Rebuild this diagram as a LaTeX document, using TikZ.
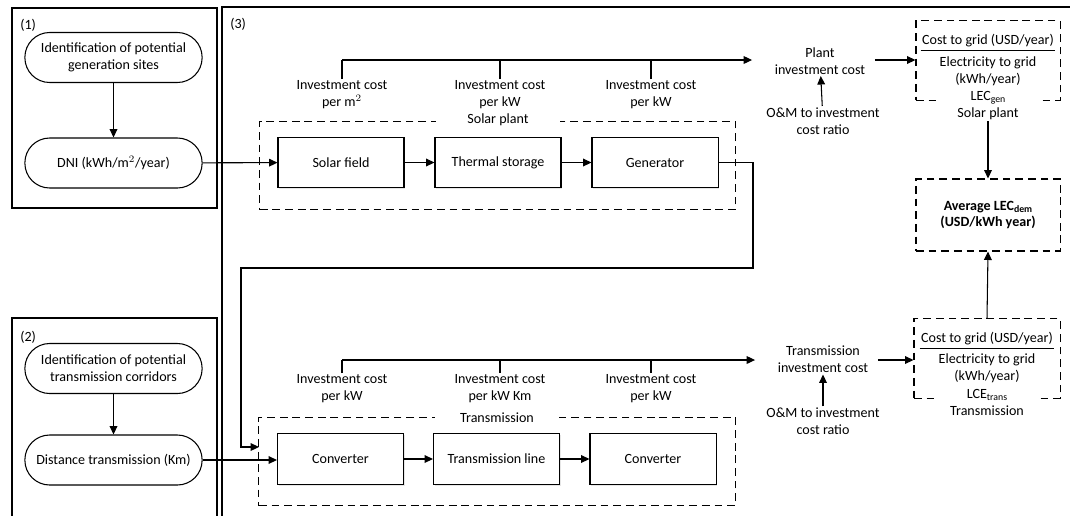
\documentclass[tikz,border=0pt]{standalone}
\usepackage{fontspec}
\setmainfont{Carlito}
\usetikzlibrary{arrows.meta,shadows}

\newcommand{\lowsub}[1]{\raisebox{-0.35ex}{\scriptsize #1}}

\tikzset{
  line/.style={black, line width=0.75pt},
  arr/.style={line, -{Triangle[length=6pt,width=5.5pt]}},
  dashbox/.style={line, draw, dash pattern=on 5.5pt off 3.5pt},
  roundbox/.style={line, draw, fill=white, rounded corners=0.62cm, minimum width=4.43cm, minimum height=1.25cm, align=center},
  plainbox/.style={line, draw, fill=white, minimum width=3.15cm, minimum height=1.27cm,
    drop shadow={opacity=0.2, shadow xshift=0.8pt, shadow yshift=-0.8pt}},
  lbl/.style={align=center, inner sep=1pt}
}

\begin{document}
\begin{tikzpicture}[x=0.025cm, y=-0.025cm]
\useasboundingbox (0,0) rectangle (1070,515);
\clip (0,0) rectangle (1070,515);

% panels
\draw[line] (12,8) rectangle (217,208);
\draw[line] (12,318) rectangle (217,540);
\draw[line] (222,7) rectangle (1090,540);
\node[anchor=west, inner sep=0pt] (p1) at (20,25) {(1)};
\node[anchor=west, inner sep=0pt] (p2) at (20,337) {(2)};
\node[anchor=west, inner sep=0pt] (p3) at (230,24) {(3)};

% (1) and (2)
\node[roundbox] (sites) at (113.5,57.5) {Identification of potential\\generation sites};
\node[roundbox] (dni) at (113.5,163) {DNI (kWh/m$^{2}$/year)};
\node[roundbox] (corr) at (113.5,368.5) {Identification of potential\\transmission corridors};
\node[roundbox] (dist) at (113.5,460) {Distance transmission (Km)};
\draw[arr] (sites) -- (dni);
\draw[arr] (corr) -- (dist);

% solar plant
\node[dashbox, minimum width=11.88cm, minimum height=2.22cm] (splant) at (497.5,165.5) {};
\node[lbl, fill=white, minimum width=3.1cm] (splantlbl) at (498,120) {Solar plant};
\node[plainbox] (sfield) at (341,162.5) {Solar field};
\node[plainbox] (tstore) at (498,162.5) {Thermal storage};
\node[plainbox] (gen) at (655,162.5) {Generator};
\draw[arr] (dni) -- (sfield);
\draw[arr] (sfield) -- (tstore);
\draw[arr] (tstore) -- (gen);

\node[lbl] (c1) at (342,95) {Investment cost\\per m$^{2}$};
\node[lbl] (c2) at (500,95) {Investment cost\\per kW};
\node[lbl] (c3) at (651,95) {Investment cost\\per kW};
\coordinate (bus1) at (342,60);
\draw[line] (c1.north) -- (bus1);
\draw[line] (c2.north) -- (c2.north |- bus1);
\draw[line] (c3.north) -- (c3.north |- bus1);

\node[lbl] (pinv) at (820,61) {Plant\\investment cost};
\node[lbl] (om1) at (823,121) {O\&M to investment\\cost ratio};
\draw[arr, shorten >=15pt] (bus1) -- (pinv.west |- bus1);
\draw[arr] (om1) -- (pinv);

% LEC gen
\node[dashbox, minimum width=3.6cm, minimum height=1.98cm] (lecgen) at (988,60.5) {};
\node[lbl] (cost1) at (988,41) {Cost to grid (USD/year)};
\draw[line] ([yshift=-1pt]cost1.south west) -- ([yshift=-1pt]cost1.south east);
\node[lbl, inner sep=0pt] (elec1) at (988,71) {Electricity to grid\\(kWh/year)};
\node[lbl, fill=white, minimum width=2.6cm] (lab1) at (988,105.5) {LEC\lowsub{gen}\\Solar plant};
\draw[arr] (pinv.east |- bus1) ++(8,0) -- (lecgen.west |- bus1);

% average
\node[dashbox, minimum width=3.6cm, minimum height=1.8cm, align=center, font=\bfseries] (avg) at (988,215) {Average LEC\lowsub{dem}\\(USD/kWh year)};
\draw[arr] (lab1.south) -- (avg.north);

% generator to transmission
\node[dashbox, minimum width=11.9cm, minimum height=2.22cm] (tbox) at (497,461.5) {};
\node[lbl, fill=white, minimum width=3.1cm] (tboxlbl) at (497,418) {Transmission};
\coordinate (bendA) at (753,268);
\coordinate (bendB) at (241,268);
\coordinate (tin) at (259,447);
\draw[arr] (gen.east) -| (bendA) -- (bendB) |- (tin);

\node[plainbox] (conv1) at (340.5,459) {Converter};
\node[plainbox] (tline) at (496.5,459) {Transmission line};
\node[plainbox] (conv2) at (653,459) {Converter};
\draw[arr] (dist) -- (conv1.west |- dist);
\draw[arr] (conv1) -- (tline);
\draw[arr] (tline) -- (conv2);

\node[lbl] (c4) at (342,389) {Investment cost\\per kW};
\node[lbl] (c5) at (500,389) {Investment cost\\per kW Km};
\node[lbl] (c6) at (651,389) {Investment cost\\per kW};
\coordinate (bus2) at (342,360);
\draw[line] (c4.north) -- (bus2);
\draw[line] (c5.north) -- (c5.north |- bus2);
\draw[line] (c6.north) -- (c6.north |- bus2);

\node[lbl] (tinv) at (823,359.5) {Transmission\\investment cost};
\node[lbl] (om2) at (823,421.5) {O\&M to investment\\cost ratio};
\draw[arr, shorten >=15pt] (bus2) -- (tinv.west |- bus2);
\draw[arr] (om2) -- (tinv);

% LCE trans
\node[dashbox, minimum width=3.65cm, minimum height=1.98cm] (lce) at (987,358.5) {};
\node[lbl] (cost2) at (987,339) {Cost to grid (USD/year)};
\draw[line] ([yshift=-1pt]cost2.south west) -- ([yshift=-1pt]cost2.south east);
\node[lbl, inner sep=0pt] (elec2) at (987,368) {Electricity to grid\\(kWh/year)};
\node[lbl, fill=white, minimum width=2.6cm] (lab2) at (987,402.5) {LCE\lowsub{trans}\\Transmission};
\draw[arr] (tinv.east |- bus2) ++(8,0) -- (lce.west |- bus2);
\draw[arr] (lce.north) -- (avg.south);
\end{tikzpicture}
\end{document}
